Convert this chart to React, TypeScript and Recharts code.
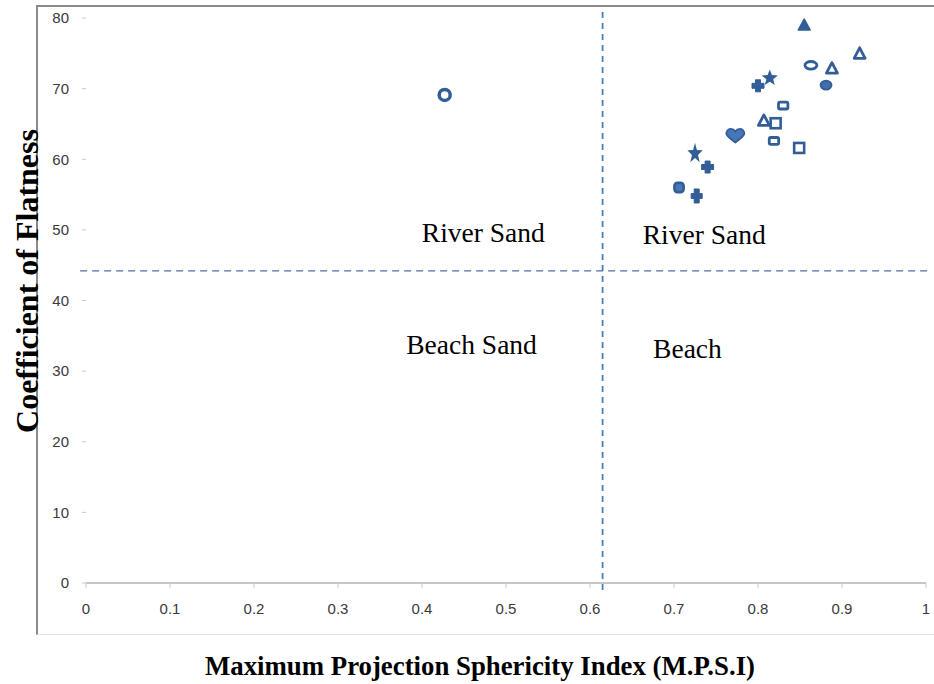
import {
  ScatterChart,
  Scatter,
  XAxis,
  YAxis,
  ReferenceLine,
  ReferenceDot,
} from 'recharts'

// Sample readings (M.P.S.I vs coefficient of flatness)
const MPSI = [0.427, 0.855, 0.921, 0.863, 0.888, 0.814, 0.8, 0.881, 0.83, 0.807, 0.821, 0.773, 0.819, 0.849, 0.725, 0.74, 0.706, 0.727]
const FLATNESS = [69.1, 79.0, 75.0, 73.3, 72.9, 71.5, 70.4, 70.5, 67.6, 65.5, 65.1, 63.3, 62.6, 61.6, 60.8, 58.9, 56.0, 54.8]
const MARKERS = [
  'ring', 'triFill', 'tri', 'ellipseRing', 'tri', 'star', 'plus', 'ellipse', 'smallSq',
  'tri', 'square', 'heart', 'smallSq', 'square', 'starTall', 'plus', 'roundSq', 'plusTall',
]

const X_TICKS = [0, 0.1, 0.2, 0.3, 0.4, 0.5, 0.6, 0.7, 0.8, 0.9, 1]
const Y_TICKS = [0, 10, 20, 30, 40, 50, 60, 70, 80]

// boundary lines between sand types
const MPSI_SPLIT = 0.615
const FLATNESS_SPLIT = 44.2

const REGION_LABELS = [
  { text: 'River Sand', x: 0.473, y: 49.7 },
  { text: 'River Sand', x: 0.736, y: 49.4 },
  { text: 'Beach Sand', x: 0.459, y: 33.8 },
  { text: 'Beach', x: 0.716, y: 33.3 },
]

const points = MPSI.map((m, i) => ({ mpsi: m, flat: FLATNESS[i], marker: MARKERS[i] }))

const BLUE = '#335d96'

function starPath(cx: number, cy: number, R: number, r: number, sy = 1) {
  let d = ''
  for (let i = 0; i < 10; i++) {
    const a = -Math.PI / 2 + (i * Math.PI) / 5
    const rad = i % 2 === 0 ? R : r
    d += `${i === 0 ? 'M' : 'L'}${cx + rad * Math.cos(a)},${cy + rad * Math.sin(a) * sy}`
  }
  return d + 'Z'
}

function plusPath(cx: number, cy: number, w: number, h: number, t: number) {
  const a = w / 2, b = h / 2, c = t / 2
  return `M${cx - c},${cy - b}H${cx + c}V${cy - c}H${cx + a}V${cy + c}H${cx + c}V${cy + b}H${cx - c}V${cy + c}H${cx - a}V${cy - c}H${cx - c}Z`
}

function Marker(props: any) {
  const { cx, cy, payload } = props
  if (cx == null || cy == null) return null
  switch (payload.marker) {
    case 'ring':
      return <circle cx={cx} cy={cy} r={5.5} fill="none" stroke={BLUE} strokeWidth={3.5} />
    case 'triFill':
      return <path d={`M${cx},${cy - 6}L${cx + 6},${cy + 5}L${cx - 6},${cy + 5}Z`} fill={BLUE} stroke={BLUE} strokeWidth={1.5} strokeLinejoin="round" />
    case 'tri':
      return <path d={`M${cx},${cy - 5.5}L${cx + 5.5},${cy + 5}L${cx - 5.5},${cy + 5}Z`} fill="#fff" stroke={BLUE} strokeWidth={2.8} strokeLinejoin="round" />
    case 'ellipseRing':
      return <ellipse cx={cx} cy={cy} rx={6} ry={3.8} fill="none" stroke={BLUE} strokeWidth={2.8} />
    case 'ellipse':
      return <ellipse cx={cx} cy={cy} rx={5.5} ry={4.5} fill="#3f6fb0" stroke={BLUE} strokeWidth={1.8} />
    case 'star':
      return <path d={starPath(cx, cy, 8.5, 3.6)} fill={BLUE} />
    case 'starTall':
      return <path d={starPath(cx, cy, 8, 3.2, 1.35)} fill={BLUE} />
    case 'plus':
      return <path d={plusPath(cx, cy, 12, 12, 5)} fill={BLUE} stroke={BLUE} strokeWidth={1} strokeLinejoin="round" />
    case 'plusTall':
      return <path d={plusPath(cx, cy, 11, 14, 5)} fill={BLUE} stroke={BLUE} strokeWidth={1} strokeLinejoin="round" />
    case 'smallSq':
      return <rect x={cx - 4.7} y={cy - 3.4} width={9.4} height={6.8} rx={1.5} fill="#fff" stroke={BLUE} strokeWidth={2.8} />
    case 'square':
      return <rect x={cx - 5} y={cy - 5} width={10} height={10} fill="#fff" stroke={BLUE} strokeWidth={2.6} />
    case 'roundSq':
      return <rect x={cx - 4.6} y={cy - 4.6} width={9.2} height={9.2} rx={3} fill="#4a78b5" stroke={BLUE} strokeWidth={2.6} />
    case 'heart':
      return (
        <path
          d={`M${cx},${cy + 6.5}C${cx - 3},${cy + 4} ${cx - 9},${cy + 0.5} ${cx - 9},${cy - 2.5}C${cx - 9},${cy - 5.5} ${cx - 6.5},${cy - 7} ${cx - 4.5},${cy - 7}C${cx - 2.5},${cy - 7} ${cx - 1},${cy - 6} ${cx},${cy - 4.5}C${cx + 1},${cy - 6} ${cx + 2.5},${cy - 7} ${cx + 4.5},${cy - 7}C${cx + 6.5},${cy - 7} ${cx + 9},${cy - 5.5} ${cx + 9},${cy - 2.5}C${cx + 9},${cy + 0.5} ${cx + 3},${cy + 4} ${cx},${cy + 6.5}Z`}
          fill="#4676b8"
          stroke={BLUE}
          strokeWidth={1.8}
        />
      )
    default:
      return <circle cx={cx} cy={cy} r={5} fill={BLUE} />
  }
}

const fmtX = (v: number) => (v === 0 || v === 1 ? `${v}` : v.toFixed(1))

export default function App() {
  return (
    <div
      style={{
        position: 'absolute',
        left: 0,
        top: 0,
        width: 934,
        height: 684,
        background: '#fff',
        overflow: 'hidden',
      }}
    >
      {/* outer frame */}
      <div
        style={{
          position: 'absolute',
          left: 36,
          top: 5,
          width: 900,
          height: 627,
          borderLeft: '2px solid #8a8a8a',
          borderTop: '2px solid #8a8a8a',
          borderBottom: '1px solid #e2e2e2',
        }}
      />
      <div style={{ position: 'absolute', left: 0, top: 0 }}>
        <ScatterChart width={934} height={684} margin={{ top: 18, right: 8, bottom: 61, left: 38 }}>
          <XAxis
            type="number"
            dataKey="mpsi"
            domain={[0, 1]}
            ticks={X_TICKS}
            tickFormatter={fmtX}
            height={40}
            axisLine={{ stroke: '#8c8c8c', strokeWidth: 1 }}
            tickLine={{ stroke: '#cfcfcf' }}
            tickSize={5}
            tickMargin={15}
            tick={{ fill: '#3a3a3a', fontSize: 15, fontFamily: "'Liberation Sans', sans-serif" }}
          />
          <YAxis
            type="number"
            dataKey="flat"
            domain={[0, 80]}
            ticks={Y_TICKS}
            width={48}
            axisLine={false}
            tickLine={{ stroke: '#c8c8c8' }}
            tickSize={4}
            tickMargin={13}
            tick={{ fill: '#3a3a3a', fontSize: 15, fontFamily: "'Liberation Sans', sans-serif" }}
          />
          <ReferenceLine
            segment={[{ x: MPSI_SPLIT, y: -1 }, { x: MPSI_SPLIT, y: 81 }]}
            ifOverflow="visible"
            stroke="#4a7ebb"
            strokeWidth={1.8}
            strokeDasharray="6 5"
          />
          <ReferenceLine
            segment={[{ x: -0.007, y: FLATNESS_SPLIT }, { x: 1.005, y: FLATNESS_SPLIT }]}
            ifOverflow="visible"
            stroke="#4f6f9f"
            strokeWidth={1.2}
            strokeDasharray="7 5"
          />
          {REGION_LABELS.map((l, i) => (
            <ReferenceDot
              key={i}
              x={l.x}
              y={l.y}
              r={0}
              fill="none"
              stroke="none"
              ifOverflow="visible"
              label={{
                value: l.text,
                position: 'center',
                fill: '#000',
                fontSize: 27.5,
                fontFamily: "'Liberation Serif', 'Times New Roman', serif",
              }}
            />
          ))}
          <Scatter data={points} shape={Marker} isAnimationActive={false} />
        </ScatterChart>
      </div>
      {/* axis titles */}
      <div
        style={{
          position: 'absolute',
          left: 27,
          top: 281,
          transform: 'translate(-50%, -50%) rotate(-90deg)',
          whiteSpace: 'nowrap',
          fontFamily: "'Liberation Serif', 'Times New Roman', serif",
          fontWeight: 700,
          fontSize: 32,
          color: '#000',
        }}
      >
        Coefficient of Flatness
      </div>
      <div
        style={{
          position: 'absolute',
          left: 480,
          top: 666,
          transform: 'translate(-50%, -50%)',
          whiteSpace: 'nowrap',
          fontFamily: "'Liberation Serif', 'Times New Roman', serif",
          fontWeight: 700,
          fontSize: 26.8,
          color: '#000',
        }}
      >
        Maximum Projection Sphericity Index (M.P.S.I)
      </div>
    </div>
  )
}
